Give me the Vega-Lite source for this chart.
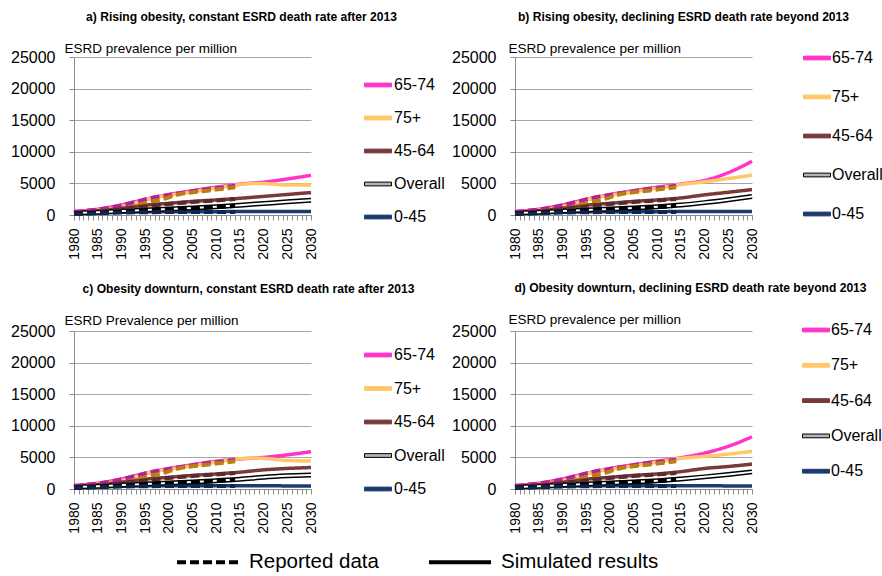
{
"$schema": "https://vega.github.io/schema/vega-lite/v6.json",
"padding": {"left": 10, "top": 11, "right": 0, "bottom": 0},
"background": "white",
"datasets": {
"sim": [
{"p":"*","s":"65-74","y":1980,"v":550},{"p":"*","s":"65-74","y":1985,"v":920},{"p":"*","s":"65-74","y":1990,"v":1600},{"p":"*","s":"65-74","y":1995,"v":2450},{"p":"*","s":"65-74","y":2000,"v":3240},{"p":"*","s":"65-74","y":2005,"v":3830},{"p":"*","s":"65-74","y":2010,"v":4400},
{"p":"*","s":"75+","y":1980,"v":420},{"p":"*","s":"75+","y":1985,"v":760},{"p":"*","s":"75+","y":1990,"v":1350},{"p":"*","s":"75+","y":1995,"v":2350},{"p":"*","s":"75+","y":1997,"v":2780},{"p":"*","s":"75+","y":2000,"v":3100},{"p":"*","s":"75+","y":2005,"v":3650},{"p":"*","s":"75+","y":2010,"v":4250},
{"p":"*","s":"45-64","y":1980,"v":400},{"p":"*","s":"45-64","y":1985,"v":660},{"p":"*","s":"45-64","y":1990,"v":1080},{"p":"*","s":"45-64","y":1995,"v":1550},{"p":"*","s":"45-64","y":2000,"v":1850},{"p":"*","s":"45-64","y":2005,"v":2150},{"p":"*","s":"45-64","y":2010,"v":2380},
{"p":"*","s":"Overall","y":1980,"v":300},{"p":"*","s":"Overall","y":1985,"v":440},{"p":"*","s":"Overall","y":1990,"v":620},{"p":"*","s":"Overall","y":1995,"v":800},{"p":"*","s":"Overall","y":2000,"v":950},{"p":"*","s":"Overall","y":2005,"v":1120},{"p":"*","s":"Overall","y":2010,"v":1320},
{"p":"*","s":"0-45","y":1980,"v":250},{"p":"*","s":"0-45","y":1985,"v":340},{"p":"*","s":"0-45","y":1990,"v":440},{"p":"*","s":"0-45","y":1995,"v":490},{"p":"*","s":"0-45","y":2000,"v":510},{"p":"*","s":"0-45","y":2005,"v":520},{"p":"*","s":"0-45","y":2010,"v":530},
{"p":"a","s":"65-74","y":2015,"v":4880},{"p":"a","s":"65-74","y":2020,"v":5200},{"p":"a","s":"65-74","y":2025,"v":5700},{"p":"a","s":"65-74","y":2030,"v":6280},
{"p":"a","s":"75+","y":2015,"v":4800},{"p":"a","s":"75+","y":2018,"v":5000},{"p":"a","s":"75+","y":2020,"v":4980},{"p":"a","s":"75+","y":2025,"v":4750},{"p":"a","s":"75+","y":2030,"v":4740},
{"p":"a","s":"45-64","y":2015,"v":2640},{"p":"a","s":"45-64","y":2020,"v":2940},{"p":"a","s":"45-64","y":2025,"v":3250},{"p":"a","s":"45-64","y":2030,"v":3550},
{"p":"a","s":"Overall","y":2015,"v":1560},{"p":"a","s":"Overall","y":2020,"v":1820},{"p":"a","s":"Overall","y":2025,"v":2080},{"p":"a","s":"Overall","y":2030,"v":2320},
{"p":"a","s":"0-45","y":2015,"v":540},{"p":"a","s":"0-45","y":2020,"v":550},{"p":"a","s":"0-45","y":2025,"v":560},{"p":"a","s":"0-45","y":2030,"v":570},
{"p":"b","s":"65-74","y":2015,"v":4900},{"p":"b","s":"65-74","y":2020,"v":5460},{"p":"b","s":"65-74","y":2025,"v":6700},{"p":"b","s":"65-74","y":2030,"v":8500},
{"p":"b","s":"75+","y":2015,"v":4820},{"p":"b","s":"75+","y":2020,"v":5250},{"p":"b","s":"75+","y":2025,"v":5770},{"p":"b","s":"75+","y":2030,"v":6280},
{"p":"b","s":"45-64","y":2015,"v":2700},{"p":"b","s":"45-64","y":2020,"v":3190},{"p":"b","s":"45-64","y":2025,"v":3600},{"p":"b","s":"45-64","y":2030,"v":4020},
{"p":"b","s":"Overall","y":2015,"v":1580},{"p":"b","s":"Overall","y":2020,"v":1960},{"p":"b","s":"Overall","y":2025,"v":2420},{"p":"b","s":"Overall","y":2030,"v":2930},
{"p":"b","s":"0-45","y":2015,"v":540},{"p":"b","s":"0-45","y":2020,"v":550},{"p":"b","s":"0-45","y":2025,"v":560},{"p":"b","s":"0-45","y":2030,"v":570},
{"p":"c","s":"65-74","y":2015,"v":4750},{"p":"c","s":"65-74","y":2020,"v":5000},{"p":"c","s":"65-74","y":2025,"v":5400},{"p":"c","s":"65-74","y":2030,"v":5900},
{"p":"c","s":"75+","y":2015,"v":4790},{"p":"c","s":"75+","y":2018,"v":4900},{"p":"c","s":"75+","y":2020,"v":4840},{"p":"c","s":"75+","y":2025,"v":4520},{"p":"c","s":"75+","y":2030,"v":4420},
{"p":"c","s":"45-64","y":2015,"v":2660},{"p":"c","s":"45-64","y":2020,"v":3030},{"p":"c","s":"45-64","y":2025,"v":3250},{"p":"c","s":"45-64","y":2030,"v":3400},
{"p":"c","s":"Overall","y":2015,"v":1540},{"p":"c","s":"Overall","y":2020,"v":1860},{"p":"c","s":"Overall","y":2025,"v":2080},{"p":"c","s":"Overall","y":2030,"v":2230},
{"p":"c","s":"0-45","y":2015,"v":530},{"p":"c","s":"0-45","y":2020,"v":510},{"p":"c","s":"0-45","y":2025,"v":490},{"p":"c","s":"0-45","y":2030,"v":480},
{"p":"d","s":"65-74","y":2015,"v":4950},{"p":"d","s":"65-74","y":2020,"v":5690},{"p":"d","s":"65-74","y":2025,"v":6760},{"p":"d","s":"65-74","y":2030,"v":8250},
{"p":"d","s":"75+","y":2015,"v":4850},{"p":"d","s":"75+","y":2020,"v":5160},{"p":"d","s":"75+","y":2025,"v":5530},{"p":"d","s":"75+","y":2030,"v":5960},
{"p":"d","s":"45-64","y":2015,"v":2750},{"p":"d","s":"45-64","y":2020,"v":3250},{"p":"d","s":"45-64","y":2025,"v":3560},{"p":"d","s":"45-64","y":2030,"v":3940},
{"p":"d","s":"Overall","y":2015,"v":1600},{"p":"d","s":"Overall","y":2020,"v":1920},{"p":"d","s":"Overall","y":2025,"v":2290},{"p":"d","s":"Overall","y":2030,"v":2710},
{"p":"d","s":"0-45","y":2015,"v":530},{"p":"d","s":"0-45","y":2020,"v":510},{"p":"d","s":"0-45","y":2025,"v":490},{"p":"d","s":"0-45","y":2030,"v":480}
],
"rep": [
{"s":"r65-74","y":1980,"v":480},{"s":"r65-74","y":1984,"v":780},{"s":"r65-74","y":1988,"v":1200},{"s":"r65-74","y":1992,"v":1900},{"s":"r65-74","y":1996,"v":2650},{"s":"r65-74","y":2000,"v":3150},{"s":"r65-74","y":2004,"v":3650},{"s":"r65-74","y":2008,"v":4100},{"s":"r65-74","y":2012,"v":4450},{"s":"r65-74","y":2014,"v":4650},
{"s":"r75+","y":1980,"v":250},{"s":"r75+","y":1984,"v":450},{"s":"r75+","y":1988,"v":750},{"s":"r75+","y":1990,"v":930},{"s":"r75+","y":1993,"v":1440},{"s":"r75+","y":1996,"v":2060},{"s":"r75+","y":1999,"v":2575},{"s":"r75+","y":2002,"v":3250},{"s":"r75+","y":2005,"v":3600},{"s":"r75+","y":2008,"v":3820},{"s":"r75+","y":2011,"v":4120},{"s":"r75+","y":2014,"v":4380},
{"s":"r45-64","y":1980,"v":300},{"s":"r45-64","y":1985,"v":540},{"s":"r45-64","y":1990,"v":950},{"s":"r45-64","y":1995,"v":1400},{"s":"r45-64","y":2000,"v":1750},{"s":"r45-64","y":2005,"v":2050},{"s":"r45-64","y":2010,"v":2300},{"s":"r45-64","y":2014,"v":2550},
{"s":"rOverall","y":1980,"v":220},{"s":"rOverall","y":1985,"v":380},{"s":"rOverall","y":1990,"v":550},{"s":"rOverall","y":1995,"v":760},{"s":"rOverall","y":2000,"v":920},{"s":"rOverall","y":2005,"v":1080},{"s":"rOverall","y":2010,"v":1250},{"s":"rOverall","y":2014,"v":1450},
{"s":"r0-45","y":1980,"v":150},{"s":"r0-45","y":1985,"v":270},{"s":"r0-45","y":1990,"v":390},{"s":"r0-45","y":1995,"v":440},{"s":"r0-45","y":2000,"v":460},{"s":"r0-45","y":2005,"v":470},{"s":"r0-45","y":2010,"v":480},{"s":"r0-45","y":2014,"v":480}
]
},
"concat": [
{
"width": 237, "height": 158,
"title": {"text": "a) Rising obesity, constant ESRD death rate after 2013", "frame": "group", "anchor": "middle", "dx": 49, "offset": 17.5},
"encoding": {
 "x": {"field": "y", "type": "quantitative", "scale": {"domain": [1980, 2030], "nice": false, "zero": false}, "axis": {"title": null, "tickCount": 50, "labelExpr": "datum.value % 5 === 0 ? datum.label : ''", "format": "d", "labelAngle": -90, "labelAlign": "right", "labelBaseline": "middle", "labelOverlap": false, "labelPadding": 8, "tickSize": 5, "grid": false, "labelFontSize": 14}},
 "y": {"field": "v", "type": "quantitative", "scale": {"domain": [0, 25000], "nice": false}, "axis": {"title": "ESRD prevalence per million", "titleAngle": 0, "titleAlign": "left", "titleBaseline": "middle", "titleX": -10, "titleY": -9, "titleFontSize": 13.5, "titleFontWeight": "normal", "values": [0, 5000, 10000, 15000, 20000, 25000], "format": "d", "labelFontSize": 16, "labelPadding": 14, "tickSize": 5, "grid": true}}
},
"layer": [
 {"data": {"name": "sim"}, "transform": [{"filter": "(datum.p === 'a' || datum.p === '*') && datum.s !== 'Overall'"}],
  "mark": {"type": "line", "strokeWidth": 3.5, "interpolate": "monotone"},
  "encoding": {
   "color": {"field": "s", "type": "nominal", "scale": {"domain": ["65-74","75+","45-64","Overall","0-45","r65-74","r75+","r45-64","rOverall","r0-45"], "range": ["#FF33CC","#FFC766","#7A3A3A","#000000","#1B3A6F","#B3229A","#B97F12","#5A2A2C","#000000","#0E2550"]},
    "legend": {"values": ["65-74","75+","45-64","Overall","0-45"], "orient": "none", "legendX": 290, "legendY": 14, "rowPadding": 11,
     "encode": {"symbols": {"update": {
      "fill": [{"test": "datum.value === '65-74'", "value": "#FF33CC"}, {"test": "datum.value === '75+'", "value": "#FFC766"}, {"test": "datum.value === '45-64'", "value": "#7A3A3A"}, {"test": "datum.value === 'Overall'", "value": "#b3b3b3"}, {"value": "#1B3A6F"}],
      "stroke": [{"test": "datum.value === '65-74'", "value": "#FF33CC"}, {"test": "datum.value === '75+'", "value": "#FFC766"}, {"test": "datum.value === '45-64'", "value": "#7A3A3A"}, {"test": "datum.value === 'Overall'", "value": "#000000"}, {"value": "#1B3A6F"}]}}}}},
   "strokeDash": {"datum": "Simulated results", "type": "nominal", "scale": {"domain": ["Reported data", "Simulated results"], "range": [[9, 4], [1, 0]]}, "legend": null}
  }},
 {"data": {"name": "sim"}, "transform": [{"filter": "(datum.p === 'a' || datum.p === '*') && datum.s === 'Overall'"}],
  "mark": {"type": "line", "strokeWidth": 5, "color": "black", "interpolate": "monotone"}, "encoding": {}},
 {"data": {"name": "sim"}, "transform": [{"filter": "(datum.p === 'a' || datum.p === '*') && datum.s === 'Overall'"}],
  "mark": {"type": "line", "strokeWidth": 2, "color": "white", "interpolate": "monotone"}, "encoding": {}},
 {"data": {"name": "rep"},
  "mark": {"type": "line", "strokeWidth": 4, "interpolate": "monotone"},
  "encoding": {
   "color": {"field": "s", "type": "nominal", "legend": null},
   "strokeDash": {"datum": "Reported data", "type": "nominal", "legend": null}
  }}
]
},
{
"width": 237, "height": 158,
"title": {"text": "b) Rising obesity, declining ESRD death rate beyond 2013", "frame": "group", "anchor": "middle", "dx": 50, "offset": 17.5},
"encoding": {
 "x": {"field": "y", "type": "quantitative", "scale": {"domain": [1980, 2030], "nice": false, "zero": false}, "axis": {"title": null, "tickCount": 50, "labelExpr": "datum.value % 5 === 0 ? datum.label : ''", "format": "d", "labelAngle": -90, "labelAlign": "right", "labelBaseline": "middle", "labelOverlap": false, "labelPadding": 8, "tickSize": 5, "grid": false, "labelFontSize": 14}},
 "y": {"field": "v", "type": "quantitative", "scale": {"domain": [0, 25000], "nice": false}, "axis": {"title": "ESRD prevalence per million", "titleAngle": 0, "titleAlign": "left", "titleBaseline": "middle", "titleX": -7, "titleY": -9, "titleFontSize": 13.5, "titleFontWeight": "normal", "values": [0, 5000, 10000, 15000, 20000, 25000], "format": "d", "labelFontSize": 16, "labelPadding": 14, "tickSize": 5, "grid": true}}
},
"layer": [
 {"data": {"name": "sim"}, "transform": [{"filter": "(datum.p === 'b' || datum.p === '*') && datum.s !== 'Overall'"}],
  "mark": {"type": "line", "strokeWidth": 3.5, "interpolate": "monotone"},
  "encoding": {
   "color": {"field": "s", "type": "nominal", "scale": {"domain": ["65-74","75+","45-64","Overall","0-45","r65-74","r75+","r45-64","rOverall","r0-45"], "range": ["#FF33CC","#FFC766","#7A3A3A","#000000","#1B3A6F","#B3229A","#B97F12","#5A2A2C","#000000","#0E2550"]},
    "legend": {"values": ["65-74","75+","45-64","Overall","0-45"], "orient": "none", "legendX": 288, "legendY": -13, "rowPadding": 17, "labelOffset": 1,
     "encode": {"symbols": {"update": {
      "fill": [{"test": "datum.value === '65-74'", "value": "#FF33CC"}, {"test": "datum.value === '75+'", "value": "#FFC766"}, {"test": "datum.value === '45-64'", "value": "#7A3A3A"}, {"test": "datum.value === 'Overall'", "value": "#b3b3b3"}, {"value": "#1B3A6F"}],
      "stroke": [{"test": "datum.value === '65-74'", "value": "#FF33CC"}, {"test": "datum.value === '75+'", "value": "#FFC766"}, {"test": "datum.value === '45-64'", "value": "#7A3A3A"}, {"test": "datum.value === 'Overall'", "value": "#000000"}, {"value": "#1B3A6F"}]}}}}},
   "strokeDash": {"datum": "Simulated results", "type": "nominal", "scale": {"domain": ["Reported data", "Simulated results"], "range": [[9, 4], [1, 0]]}, "legend": null}
  }},
 {"data": {"name": "sim"}, "transform": [{"filter": "(datum.p === 'b' || datum.p === '*') && datum.s === 'Overall'"}],
  "mark": {"type": "line", "strokeWidth": 5, "color": "black", "interpolate": "monotone"}, "encoding": {}},
 {"data": {"name": "sim"}, "transform": [{"filter": "(datum.p === 'b' || datum.p === '*') && datum.s === 'Overall'"}],
  "mark": {"type": "line", "strokeWidth": 2, "color": "white", "interpolate": "monotone"}, "encoding": {}},
 {"data": {"name": "rep"},
  "mark": {"type": "line", "strokeWidth": 4, "interpolate": "monotone"},
  "encoding": {
   "color": {"field": "s", "type": "nominal", "legend": null},
   "strokeDash": {"datum": "Reported data", "type": "nominal", "legend": null}
  }}
]
},
{
"width": 237, "height": 158,
"title": {"text": "c) Obesity downturn, constant ESRD death rate after 2013", "frame": "group", "anchor": "middle", "dx": 56, "offset": 17.5},
"encoding": {
 "x": {"field": "y", "type": "quantitative", "scale": {"domain": [1980, 2030], "nice": false, "zero": false}, "axis": {"title": null, "tickCount": 50, "labelExpr": "datum.value % 5 === 0 ? datum.label : ''", "format": "d", "labelAngle": -90, "labelAlign": "right", "labelBaseline": "middle", "labelOverlap": false, "labelPadding": 8, "tickSize": 5, "grid": false, "labelFontSize": 14}},
 "y": {"field": "v", "type": "quantitative", "scale": {"domain": [0, 25000], "nice": false}, "axis": {"title": "ESRD Prevalence per million", "titleAngle": 0, "titleAlign": "left", "titleBaseline": "middle", "titleX": -10, "titleY": -11, "titleFontSize": 13.5, "titleFontWeight": "normal", "values": [0, 5000, 10000, 15000, 20000, 25000], "format": "d", "labelFontSize": 16, "labelPadding": 14, "tickSize": 5, "grid": true}}
},
"layer": [
 {"data": {"name": "sim"}, "transform": [{"filter": "(datum.p === 'c' || datum.p === '*') && datum.s !== 'Overall'"}],
  "mark": {"type": "line", "strokeWidth": 3.5, "interpolate": "monotone"},
  "encoding": {
   "color": {"field": "s", "type": "nominal", "scale": {"domain": ["65-74","75+","45-64","Overall","0-45","r65-74","r75+","r45-64","rOverall","r0-45"], "range": ["#FF33CC","#FFC766","#7A3A3A","#000000","#1B3A6F","#B3229A","#B97F12","#5A2A2C","#000000","#0E2550"]},
    "legend": {"values": ["65-74","75+","45-64","Overall","0-45"], "orient": "none", "legendX": 290, "legendY": 10, "rowPadding": 11.5,
     "encode": {"symbols": {"update": {
      "fill": [{"test": "datum.value === '65-74'", "value": "#FF33CC"}, {"test": "datum.value === '75+'", "value": "#FFC766"}, {"test": "datum.value === '45-64'", "value": "#7A3A3A"}, {"test": "datum.value === 'Overall'", "value": "#b3b3b3"}, {"value": "#1B3A6F"}],
      "stroke": [{"test": "datum.value === '65-74'", "value": "#FF33CC"}, {"test": "datum.value === '75+'", "value": "#FFC766"}, {"test": "datum.value === '45-64'", "value": "#7A3A3A"}, {"test": "datum.value === 'Overall'", "value": "#000000"}, {"value": "#1B3A6F"}]}}}}},
   "strokeDash": {"datum": "Simulated results", "type": "nominal", "scale": {"domain": ["Reported data", "Simulated results"], "range": [[9, 4], [1, 0]]},
    "legend": {"orient": "none", "legendX": 101, "legendY": 198, "direction": "horizontal", "title": null, "symbolType": "stroke", "symbolSize": 3844, "symbolStrokeWidth": 4, "symbolStrokeColor": "black", "labelFontSize": 20.5, "labelOffset": 8, "columnPadding": 42, "labelColor": "black"}}
  }},
 {"data": {"name": "sim"}, "transform": [{"filter": "(datum.p === 'c' || datum.p === '*') && datum.s === 'Overall'"}],
  "mark": {"type": "line", "strokeWidth": 5, "color": "black", "interpolate": "monotone"}, "encoding": {}},
 {"data": {"name": "sim"}, "transform": [{"filter": "(datum.p === 'c' || datum.p === '*') && datum.s === 'Overall'"}],
  "mark": {"type": "line", "strokeWidth": 2, "color": "white", "interpolate": "monotone"}, "encoding": {}},
 {"data": {"name": "rep"},
  "mark": {"type": "line", "strokeWidth": 4, "interpolate": "monotone"},
  "encoding": {
   "color": {"field": "s", "type": "nominal", "legend": null},
   "strokeDash": {"datum": "Reported data", "type": "nominal"}
  }}
]
},
{
"width": 237, "height": 158,
"title": {"text": "d) Obesity downturn, declining ESRD death rate beyond 2013", "frame": "group", "anchor": "middle", "dx": 57, "offset": 17.5},
"encoding": {
 "x": {"field": "y", "type": "quantitative", "scale": {"domain": [1980, 2030], "nice": false, "zero": false}, "axis": {"title": null, "tickCount": 50, "labelExpr": "datum.value % 5 === 0 ? datum.label : ''", "format": "d", "labelAngle": -90, "labelAlign": "right", "labelBaseline": "middle", "labelOverlap": false, "labelPadding": 8, "tickSize": 5, "grid": false, "labelFontSize": 14}},
 "y": {"field": "v", "type": "quantitative", "scale": {"domain": [0, 25000], "nice": false}, "axis": {"title": "ESRD prevalence per million", "titleAngle": 0, "titleAlign": "left", "titleBaseline": "middle", "titleX": -7, "titleY": -12, "titleFontSize": 13.5, "titleFontWeight": "normal", "values": [0, 5000, 10000, 15000, 20000, 25000], "format": "d", "labelFontSize": 16, "labelPadding": 14, "tickSize": 5, "grid": true}}
},
"layer": [
 {"data": {"name": "sim"}, "transform": [{"filter": "(datum.p === 'd' || datum.p === '*') && datum.s !== 'Overall'"}],
  "mark": {"type": "line", "strokeWidth": 3.5, "interpolate": "monotone"},
  "encoding": {
   "color": {"field": "s", "type": "nominal", "scale": {"domain": ["65-74","75+","45-64","Overall","0-45","r65-74","r75+","r45-64","rOverall","r0-45"], "range": ["#FF33CC","#FFC766","#7A3A3A","#000000","#1B3A6F","#B3229A","#B97F12","#5A2A2C","#000000","#0E2550"]},
    "legend": {"values": ["65-74","75+","45-64","Overall","0-45"], "orient": "none", "legendX": 287, "legendY": -15, "rowPadding": 13.3, "labelOffset": 1,
     "encode": {"symbols": {"update": {
      "fill": [{"test": "datum.value === '65-74'", "value": "#FF33CC"}, {"test": "datum.value === '75+'", "value": "#FFC766"}, {"test": "datum.value === '45-64'", "value": "#7A3A3A"}, {"test": "datum.value === 'Overall'", "value": "#b3b3b3"}, {"value": "#1B3A6F"}],
      "stroke": [{"test": "datum.value === '65-74'", "value": "#FF33CC"}, {"test": "datum.value === '75+'", "value": "#FFC766"}, {"test": "datum.value === '45-64'", "value": "#7A3A3A"}, {"test": "datum.value === 'Overall'", "value": "#000000"}, {"value": "#1B3A6F"}]}}}}},
   "strokeDash": {"datum": "Simulated results", "type": "nominal", "scale": {"domain": ["Reported data", "Simulated results"], "range": [[9, 4], [1, 0]]}, "legend": null}
  }},
 {"data": {"name": "sim"}, "transform": [{"filter": "(datum.p === 'd' || datum.p === '*') && datum.s === 'Overall'"}],
  "mark": {"type": "line", "strokeWidth": 5, "color": "black", "interpolate": "monotone"}, "encoding": {}},
 {"data": {"name": "sim"}, "transform": [{"filter": "(datum.p === 'd' || datum.p === '*') && datum.s === 'Overall'"}],
  "mark": {"type": "line", "strokeWidth": 2, "color": "white", "interpolate": "monotone"}, "encoding": {}},
 {"data": {"name": "rep"},
  "mark": {"type": "line", "strokeWidth": 4, "interpolate": "monotone"},
  "encoding": {
   "color": {"field": "s", "type": "nominal", "legend": null},
   "strokeDash": {"datum": "Reported data", "type": "nominal", "legend": null}
  }}
]
}
],
"columns": 2,
"spacing": {"row": 116, "column": 204},
"bounds": "flush",
"resolve": {"scale": {"color": "shared", "strokeDash": "shared"}, "legend": {"color": "independent", "strokeDash": "independent"}},
"config": {
 "font": "Liberation Sans",
 "view": {"stroke": null},
 "title": {"fontSize": 12.1, "fontWeight": "bold", "color": "black", "font": "Liberation Sans"},
 "axis": {"labelColor": "black", "titleColor": "black", "domainColor": "#8c8c8c", "tickColor": "#8c8c8c", "gridColor": "#a6a6a6", "labelFont": "Liberation Sans", "titleFont": "Liberation Sans"},
 "legend": {
  "title": null,
  "labelFontSize": 16, "labelColor": "black", "labelFont": "Liberation Sans", "labelOffset": 2,
  "symbolType": "M-1,-0.14H1V0.14H-1Z", "symbolSize": 729, "symbolStrokeWidth": 1,
  "padding": 0
 }
}
}
